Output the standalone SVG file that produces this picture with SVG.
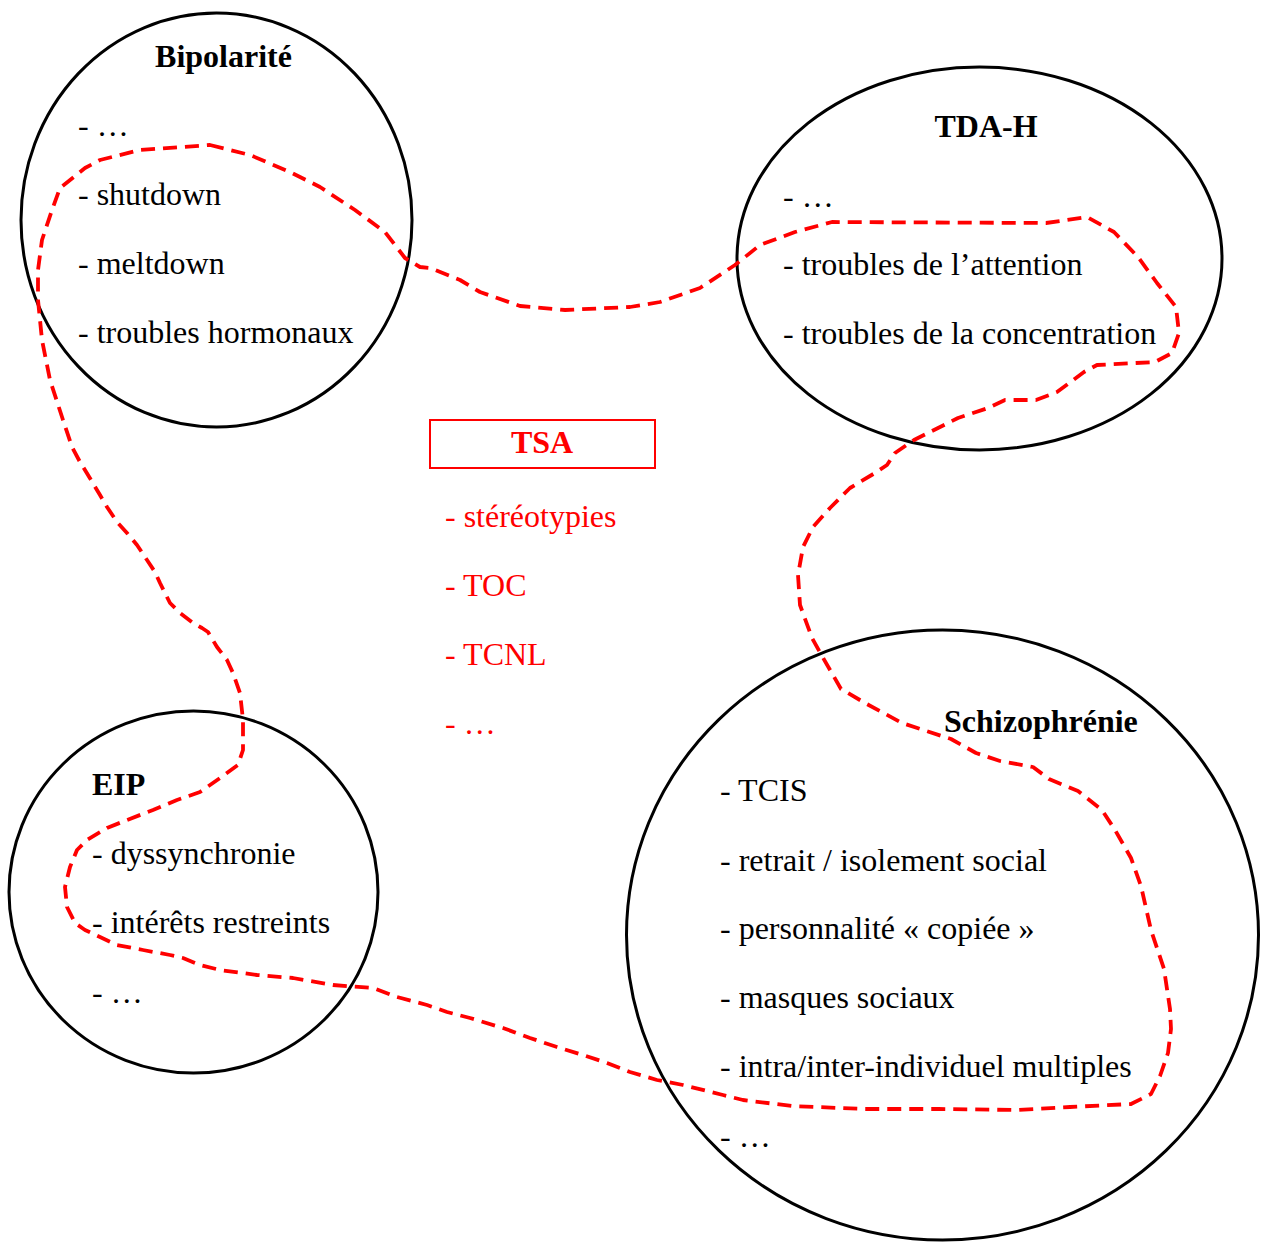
<svg xmlns="http://www.w3.org/2000/svg" width="1261" height="1242" viewBox="0 0 1261 1242">
<style>
.c{fill:none;stroke:#000;stroke-width:3}
text{font-family:"Liberation Serif","Times New Roman",serif;font-size:32px;fill:#000}
.t{font-weight:bold}
.r{fill:#ff0000}
.box{fill:none;stroke:#ff0000;stroke-width:2}
.d{fill:none;stroke:#ff0000;stroke-width:3.8;stroke-dasharray:14 8;stroke-linejoin:round}
</style>
<rect width="1261" height="1242" fill="#fff"/>
<g id="bipolarite">
<ellipse class="c" cx="216.5" cy="220" rx="195.5" ry="207"/>
<text class="t" x="223.5" y="67" text-anchor="middle">Bipolarité</text>
<text x="78" y="136">- …</text>
<text x="78" y="205">- shutdown</text>
<text x="78" y="274">- meltdown</text>
<text x="78" y="343">- troubles hormonaux</text>
</g>
<g id="tdah">
<ellipse class="c" cx="979.5" cy="258.5" rx="242.5" ry="191.5"/>
<text class="t" x="986" y="137" text-anchor="middle">TDA-H</text>
<text x="783" y="207">- …</text>
<text x="783" y="275">- troubles de l’attention</text>
<text x="783" y="344">- troubles de la concentration</text>
</g>
<g id="tsa">
<rect class="box" x="430" y="420" width="225" height="48"/>
<text class="t r" x="542" y="453" text-anchor="middle">TSA</text>
<text class="r" x="445" y="527">- stéréotypies</text>
<text class="r" x="445" y="596">- TOC</text>
<text class="r" x="445" y="665">- TCNL</text>
<text class="r" x="445" y="734">- …</text>
</g>
<g id="eip">
<ellipse class="c" cx="193.5" cy="892" rx="184.5" ry="181"/>
<text class="t" x="92" y="795">EIP</text>
<text x="92" y="864">- dyssynchronie</text>
<text x="92" y="933">- intérêts restreints</text>
<text x="92" y="1003">- …</text>
</g>
<g id="schizophrenie">
<ellipse class="c" cx="942.5" cy="935" rx="316" ry="305"/>
<text class="t" x="944" y="732">Schizophrénie</text>
<text x="720" y="801">- TCIS</text>
<text x="720" y="871">- retrait / isolement social</text>
<text x="720" y="939">- personnalité « copiée »</text>
<text x="720" y="1008">- masques sociaux</text>
<text x="720" y="1077">- intra/inter-individuel multiples</text>
<text x="720" y="1147">- …</text>
</g>
<g id="connectors">
<polygon class="d" points="210,145 250,155 290,172 320,187 355,210 385,232 405,258 420,267 430,268 460,280 480,292 520,306 565,310 630,307 660,302 700,288 735,265 760,245 795,232 832,222 1046,223 1087,217 1114,232 1138,257 1157,283 1176,307 1179,333 1172,353 1155,362 1097,365 1084,372 1057,392 1036,400 1005,400 988,408 958,418 914,440 895,453 887,465 875,473 850,488 830,508 813,527 803,547 798,575 800,605 812,638 822,656 841,689 865,703 902,723 951,739 976,753 1000,761 1033,767 1049,779 1078,791 1102,810 1115,830 1131,858 1141,886 1151,930 1164,969 1170,1009 1171,1029 1168,1053 1160,1076 1151,1094 1131,1104 1070,1107 1017,1110 939,1109 865,1109 792,1106 743,1100 723,1095 683,1085 657,1080 630,1072 607,1063 583,1055 557,1047 530,1038 503,1028 470,1018 447,1012 427,1005 397,997 373,988 333,985 293,978 257,975 220,970 200,965 183,958 170,955 143,950 117,945 100,937 85,930 75,923 67,907 65,887 70,867 77,850 87,840 107,828 127,820 153,810 177,800 200,792 220,778 238,765 243,750 243,720 240,693 233,673 227,660 217,647 208,632 202,628 193,623 180,613 170,603 160,583 155,572 147,560 137,545 127,533 117,522 107,507 100,495 88,475 80,462 72,447 63,420 50,380 42,340 38,300 38,270 42,240 52,210 60,188 85,168 100,160 140,150"/>
</g>
</svg>
